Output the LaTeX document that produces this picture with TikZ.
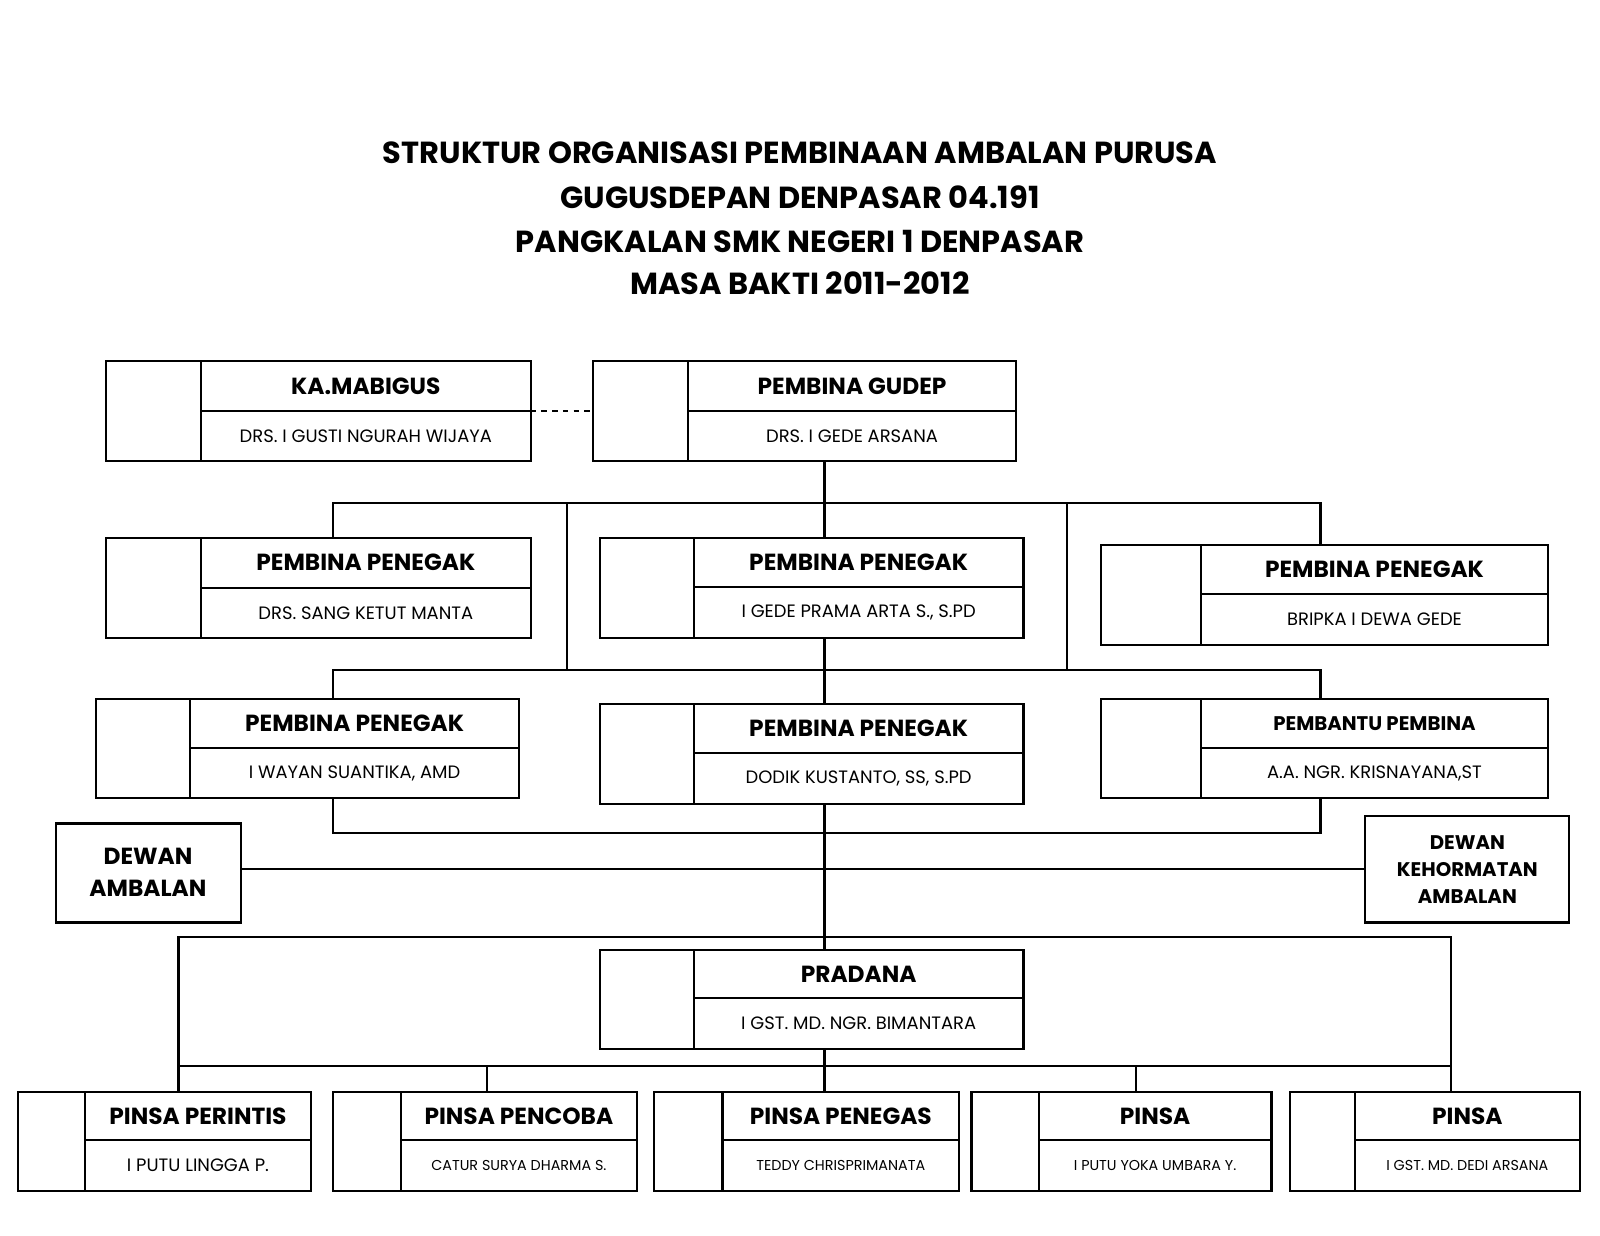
\documentclass[tikz,border=0pt]{standalone}
\usepackage{fontspec}
\setmainfont{Poppins}
\begin{document}
\begin{tikzpicture}[x=0.02cm,y=-0.02cm,
  ln/.style={line width=1.2pt},
  ttl/.style={font=\fontsize{17}{20}\selectfont\bfseries},
  hd/.style={font=\fontsize{13}{15}\selectfont\bfseries},
  nm/.style={font=\fontsize{10}{11}\selectfont}]
\useasboundingbox (0,0) rectangle (1568,1211);
\newcommand{\obox}[9]{%
  \draw[ln] (#2,#3) rectangle (#4,#5);
  \draw[ln] (#6,#3) -- (#6,#5);
  \draw[ln] (#6,#7) -- (#4,#7);
  \node[hd] (#1h) at ({(#6+#4)/2},{(#3+#7)/2}) {#8};
  \node[nm] (#1n) at ({(#6+#4)/2},{(#7+#5)/2}) {#9};
  \coordinate (#1) at ({(#2+#4)/2},{(#3+#5)/2});}
\node[ttl] (t1) at (784,150) {STRUKTUR ORGANISASI PEMBINAAN AMBALAN PURUSA};
\node[ttl] (t2) at (784,193) {GUGUSDEPAN DENPASAR 04.191};
\node[ttl] (t3) at (784,237) {PANGKALAN SMK NEGERI 1 DENPASAR};
\node[ttl] (t4) at (784,278) {MASA BAKTI 2011-2012};
\obox{mab}{104}{354}{520}{452}{197}{403}{KA.MABIGUS}{DRS. I GUSTI NGURAH WIJAYA}
\obox{gud}{581}{354}{996}{452}{674}{403}{PEMBINA GUDEP}{DRS. I GEDE ARSANA}
\draw[ln,dashed] (520,403) -- (581,403);
\obox{p1}{104}{527}{520}{625}{197}{576}{PEMBINA PENEGAK}{DRS. SANG KETUT MANTA}
\obox{p2}{588}{527}{1003}{625}{680}{575}{PEMBINA PENEGAK}{I GEDE PRAMA ARTA S., S.PD}
\obox{p3}{1079}{534}{1517}{632}{1177}{582}{PEMBINA PENEGAK}{BRIPKA I DEWA GEDE}
\obox{p4}{94}{685}{509}{782}{186}{733}{PEMBINA PENEGAK}{I WAYAN SUANTIKA, AMD}
\obox{p5}{588}{690}{1003}{788}{680}{738}{PEMBINA PENEGAK}{DODIK KUSTANTO, SS, S.PD}
\obox{pb}{1079}{685}{1517}{782}{1177}{733}{\fontsize{11}{13}\selectfont PEMBANTU PEMBINA}{A.A. NGR. KRISNAYANA,ST}
\draw[ln] (55,807) rectangle (236,904);
\node[hd,align=center] (da) at (145,855) {DEWAN\\[3pt]AMBALAN};
\draw[ln] (1338,800) rectangle (1538,904);
\node[hd,align=center,font=\fontsize{11}{15}\selectfont\bfseries] (dk) at (1438,852) {DEWAN\\KEHORMATAN\\AMBALAN};
\obox{pr}{588}{931}{1003}{1028}{680}{978}{PRADANA}{I GST. MD. NGR. BIMANTARA}
\obox{b1}{18}{1070}{305}{1167}{83}{1117}{PINSA PERINTIS}{I PUTU LINGGA P.}
\obox{b2}{326}{1070}{624}{1167}{393}{1117}{PINSA PENCOBA}{\fontsize{8}{10}\selectfont CATUR SURYA DHARMA S.}
\obox{b3}{641}{1070}{940}{1167}{708}{1117}{PINSA PENEGAS}{\fontsize{8}{10}\selectfont TEDDY CHRISPRIMANATA}
\obox{b4}{952}{1070}{1246}{1167}{1018}{1117}{PINSA}{\fontsize{8}{10}\selectfont I PUTU YOKA UMBARA Y.}
\obox{b5}{1264}{1070}{1548}{1167}{1328}{1117}{PINSA}{\fontsize{8}{10}\selectfont I GST. MD. DEDI ARSANA}
% connectors
\draw[ln] (808,452) -- (808,527);
\draw[ln] (326,527) -- (326,493) -- (1294,493) -- (1294,534);
\draw[ln] (556,493) -- (556,657);
\draw[ln] (1046,493) -- (1046,657);
\draw[ln] (808,625) -- (808,690);
\draw[ln] (326,685) -- (326,657) -- (1294,657) -- (1294,685);
\draw[ln] (326,782) -- (326,816) -- (1294,816) -- (1294,782);
\draw[ln] (808,788) -- (808,931);
\draw[ln] (236,852) -- (1338,852);
\draw[ln] (175,1070) -- (175,918) -- (1422,918) -- (1422,1070);
\draw[ln] (175,1045) -- (1422,1045);
\draw[ln] (808,1028) -- (808,1070);
\draw[ln] (477,1045) -- (477,1070);
\draw[ln] (1113,1045) -- (1113,1070);
\end{tikzpicture}
\end{document}
